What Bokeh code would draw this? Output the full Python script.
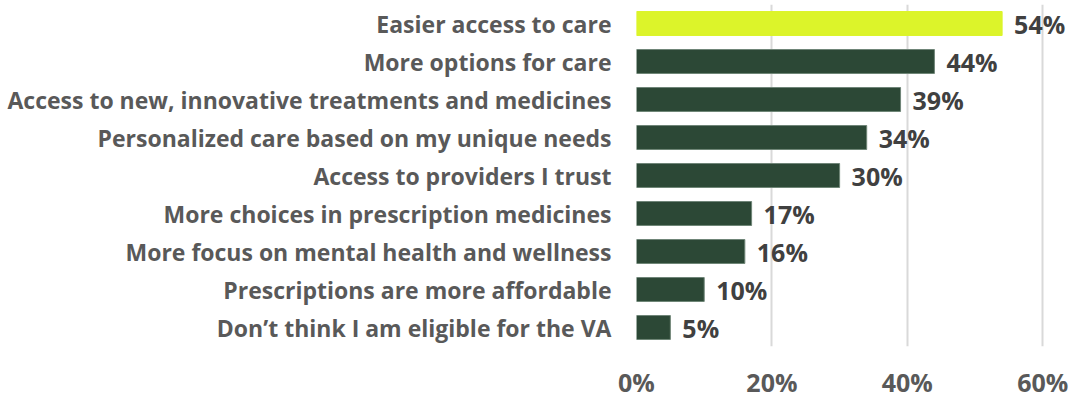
from bokeh.plotting import figure
from bokeh.models import ColumnDataSource, FactorRange, Range1d, LabelSet, FixedTicker
from bokeh.core.properties import value
from bokeh.embed import file_html
from bokeh.resources import INLINE

categories = [
    "Easier access to care",
    "More options for care",
    "Access to new, innovative treatments and medicines",
    "Personalized care based on my unique needs",
    "Access to providers I trust",
    "More choices in prescription medicines",
    "More focus on mental health and wellness",
    "Prescriptions are more affordable",
    "Don\u2019t think I am eligible for the VA",
]
values = [54, 44, 39, 34, 30, 17, 16, 10, 5]
highlighted = ["Easier access to care"]
x_ticks = [0, 20, 40, 60]
x_tick_labels = {0: "0%", 20: "20%", 40: "40%", 60: "60%"}

DARK = "#2c4836"
LIME = "#dcf42a"
FONT = "Open Sans"

fill = [LIME if c in highlighted else DARK for c in categories]
edge = [LIME if c in highlighted else "#6f8577" for c in categories]
labels = [f"{v}%" for v in values]

src = ColumnDataSource(dict(cat=categories, val=values, fill=fill, edge=edge, label=labels))

p = figure(
    width=1070, height=401,
    y_range=FactorRange(*categories[::-1]),
    x_range=Range1d(0, 64.1),
    output_backend="svg", toolbar_location=None,
    min_border_left=636, min_border_right=0, min_border_top=4, min_border_bottom=52,
)
p.hbar(y="cat", right="val", left=0, height=0.63, fill_color="fill", line_color="edge",
       line_width=1, source=src)

p.add_layout(LabelSet(x="val", y="cat", text="label", source=src, x_offset=12,
                      text_baseline="middle", text_align="left", text_font=value(FONT),
                      text_font_style="bold", text_font_size="25px", text_color="#404040"))

p.outline_line_color = None
p.ygrid.grid_line_color = None
p.xgrid.grid_line_color = "#d9d9d9"
p.xgrid.grid_line_width = 2
p.xaxis.ticker = FixedTicker(ticks=x_ticks)
p.xaxis.major_label_overrides = x_tick_labels

for ax in (p.xaxis[0], p.yaxis[0]):
    ax.axis_line_color = None
    ax.major_tick_line_color = None
    ax.minor_tick_line_color = None
    ax.major_label_text_font = FONT
    ax.major_label_text_font_style = "bold"
    ax.major_label_text_color = "#595959"

p.xaxis.major_label_text_font_size = "25px"
p.xaxis.major_label_standoff = 12
p.yaxis.major_label_text_font_size = "23px"
p.yaxis.major_label_standoff = 19

open("out.html", "w").write(file_html(p, INLINE))
